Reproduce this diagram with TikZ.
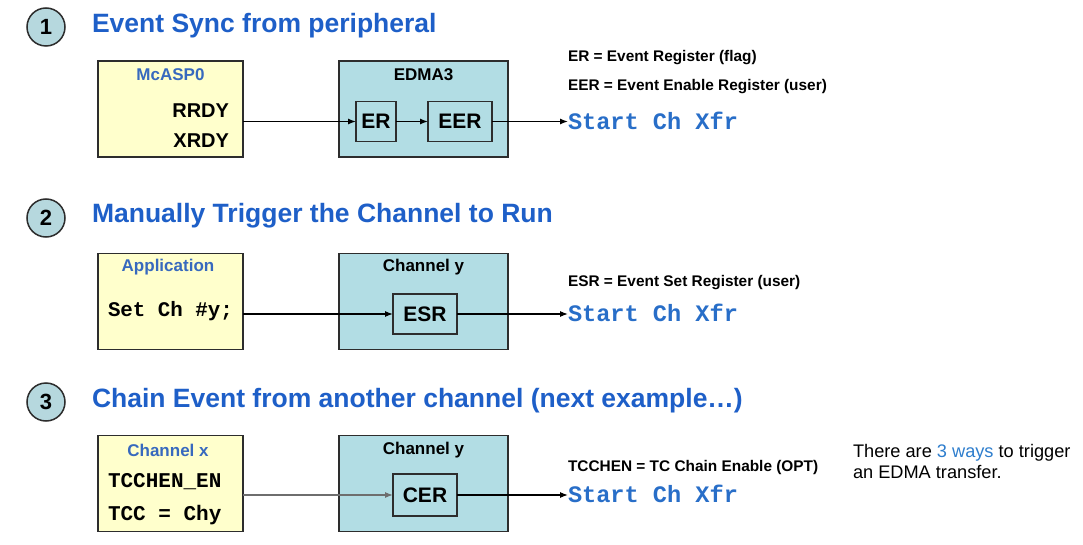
\documentclass[tikz,border=0pt]{standalone}
\usepackage{fontspec}
\setmainfont{Liberation Sans}
\setmonofont{Liberation Mono}
\usetikzlibrary{arrows.meta}
\definecolor{titleblue}{RGB}{30,95,200}
\definecolor{labelblue}{RGB}{55,105,190}
\definecolor{codeblue}{RGB}{40,110,200}
\definecolor{waysblue}{RGB}{45,125,205}
\definecolor{devfill}{RGB}{255,255,204}
\definecolor{chanfill}{RGB}{178,221,228}
\definecolor{numfill}{RGB}{182,216,222}
\definecolor{edgegray}{RGB}{45,45,45}
\definecolor{chaingray}{RGB}{110,110,110}
\newcommand{\fsz}[1]{\fontsize{#1}{#1}\selectfont}
\begin{document}
\begin{tikzpicture}[x=1pt,y=-1pt,inner sep=0pt,outer sep=0pt,line width=1.2pt,
>={Latex[length=8pt,width=6pt]},
devblock/.style={draw=edgegray,fill=devfill,rectangle,line width=1.5pt,minimum width=145pt,minimum height=96pt},
chanblock/.style={draw=edgegray,fill=chanfill,rectangle,line width=1.5pt,minimum width=169pt,minimum height=96pt},
regblock/.style={draw=edgegray,fill=chanfill,rectangle,line width=1.5pt,minimum height=40pt,font=\bfseries\fsz{21}},
numcircle/.style={draw=edgegray,fill=numfill,circle,line width=1.5pt,minimum size=38pt,font=\bfseries\fsz{22}},
heading/.style={anchor=base west,text=titleblue,font=\bfseries\fsz{26.5}},
blocklabel/.style={font=\bfseries\fsz{17}},
pinlabel/.style={anchor=east,font=\bfseries\fsz{20}},
codeline/.style={anchor=west,font=\ttfamily\bfseries\fsz{21}},
note/.style={anchor=west,font=\bfseries\fsz{15.4}},
xfr/.style={anchor=west,text=codeblue,font=\ttfamily\bfseries\fsz{23.6}}]
\fill[white] (0,0) rectangle (1083,545);
\useasboundingbox (0,0) rectangle (1083,545);
% 1: event sync
\draw (46,27) node[numcircle] (n1) {1};
\draw (92,33) node[heading] (t1) {Event Sync from peripheral};
\draw (170.5,109) node[devblock] (mcasp) {};
\draw (170.5,75) node[blocklabel,text=labelblue] (mcaspl) {McASP0};
\draw (229,111) node[pinlabel] (rrdy) {RRDY};
\draw (229,141) node[pinlabel] (xrdy) {XRDY};
\draw (423.5,109) node[chanblock] (edma) {};
\draw (423.5,75) node[blocklabel] (edmal) {EDMA3};
\draw (376,121.5) node[regblock,minimum width=40pt] (er) {ER};
\draw (460,121.5) node[regblock,minimum width=64pt] (eer) {EER};
\draw (568,58) node[note] (ernote) {ER = Event Register (flag)};
\draw (568,87) node[note] (eernote) {EER = Event Enable Register (user)};
\draw (568,120.5) node[xfr] (xfr1) {Start Ch Xfr};
\draw[->] (mcasp.east |- er.west) -- (er.west);
\draw[->] (er.east) -- (eer.west);
\draw[->] (eer.east) -- (eer.east -| xfr1.west);
% 2: manual trigger
\draw (46,218) node[numcircle] (n2) {2};
\draw (92,223) node[heading] (t2) {Manually Trigger the Channel to Run};
\draw (170.5,301.5) node[devblock] (app) {};
\draw (168,267) node[blocklabel,text=labelblue] (appl) {Application};
\draw (108,311) node[codeline,font=\ttfamily\bfseries\fsz{20.8}] (setch) {Set Ch \#y;};
\draw (423.5,301.5) node[chanblock] (chy2) {};
\draw (423.5,267) node[blocklabel] (chy2l) {Channel y};
\draw (425,314) node[regblock,minimum width=64pt] (esr) {ESR};
\draw (568,283) node[note] (esrnote) {ESR = Event Set Register (user)};
\draw (568,313) node[xfr] (xfr2) {Start Ch Xfr};
\draw[->] (app.east |- esr.west) -- (esr.west);
\draw[->] (esr.east) -- (esr.east -| xfr2.west);
% 3: chained event
\draw (46,402) node[numcircle] (n3) {3};
\draw (92,407) node[heading] (t3) {Chain Event from another channel (next example\dots)};
\draw (170.5,483.5) node[devblock] (chx) {};
\draw (168,450) node[blocklabel,text=labelblue] (chxl) {Channel x};
\draw (108,482) node[codeline] (tcchen) {TCCHEN\_EN};
\draw (108,515) node[codeline] (tcc) {TCC = Chy};
\draw (423.5,483.5) node[chanblock] (chy3) {};
\draw (423.5,450) node[blocklabel] (chy3l) {Channel y};
\draw (425,495) node[regblock,minimum width=64pt,minimum height=42pt] (cer) {CER};
\draw (568,468) node[note] (cernote) {TCCHEN = TC Chain Enable (OPT)};
\draw (568,494) node[xfr] (xfr3) {Start Ch Xfr};
\draw[->,chaingray] (chx.east |- cer.west) -- (cer.west);
\draw[->] (cer.east) -- (cer.east -| xfr3.west);
\draw (853,461.5) node[anchor=west,align=left,font=\fsz{18.2}\setlength{\baselineskip}{21pt}] (ways)
  {There are {\color{waysblue}3 ways} to trigger\\an EDMA transfer.};
\end{tikzpicture}
\end{document}
